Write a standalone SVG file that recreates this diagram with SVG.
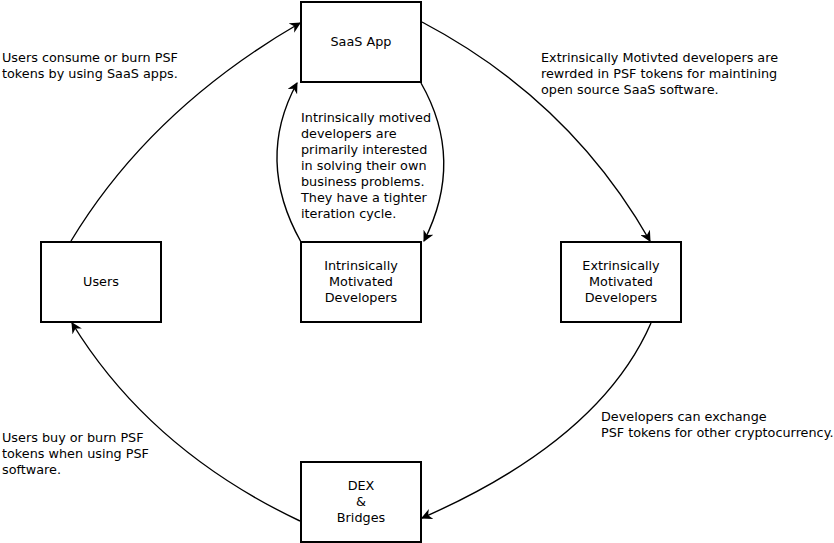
<svg xmlns="http://www.w3.org/2000/svg" width="834" height="543" viewBox="0 0 834 543">
<style>
.box{fill:#fff;stroke:#000;stroke-width:2}
.e{fill:none;stroke:#000;stroke-width:1.4}
text{font-family:"DejaVu Sans",sans-serif;font-size:12.8px;fill:#000}
.c{text-anchor:middle}
</style>
<defs>
<marker id="a" viewBox="0 0 10 10" refX="9" refY="5" markerWidth="11" markerHeight="11" markerUnits="userSpaceOnUse" orient="auto">
<path d="M0,0 L10,5 L0,10 L3,5 Z" fill="#000"/>
</marker>
</defs>
<g id="connectors">
<path class="e" d="M71,241 Q150,110 300,23" marker-end="url(#a)"/>
<path class="e" d="M422,22 Q570,100 650,241" marker-end="url(#a)"/>
<path class="e" d="M651,323 Q600,440 422,518" marker-end="url(#a)"/>
<path class="e" d="M300,521 Q150,450 72,323" marker-end="url(#a)"/>
<path class="e" d="M301,242 Q255,160 297,83" marker-end="url(#a)"/>
<path class="e" d="M421,83 Q465,160 424,241" marker-end="url(#a)"/>
</g>
<g id="saas"><rect class="box" x="301" y="2" width="120" height="80"/><text class="c" x="361" y="46">SaaS App</text></g>
<g id="users"><rect class="box" x="41" y="242" width="120" height="80"/><text class="c" x="101" y="286">Users</text></g>
<g id="intrinsic"><rect class="box" x="301" y="242" width="120" height="80"/><text class="c" x="361" y="270">Intrinsically</text><text class="c" x="361" y="286">Motivated</text><text class="c" x="361" y="302">Developers</text></g>
<g id="extrinsic"><rect class="box" x="561" y="242" width="120" height="80"/><text class="c" x="621" y="270">Extrinsically</text><text class="c" x="621" y="286">Motivated</text><text class="c" x="621" y="302">Developers</text></g>
<g id="dex"><rect class="box" x="301" y="462" width="120" height="80"/><text class="c" x="361" y="490">DEX</text><text class="c" x="361" y="506">&amp;</text><text class="c" x="361" y="522">Bridges</text></g>
<g id="labels">
<text x="2" y="62">Users consume or burn PSF</text>
<text x="2" y="78">tokens by using SaaS apps.</text>
<text x="541" y="62">Extrinsically Motivted developers are</text>
<text x="541" y="78">rewrded in PSF tokens for maintining</text>
<text x="541" y="94">open source SaaS software.</text>
<text x="301" y="122">Intrinsically motived</text>
<text x="301" y="138">developers are</text>
<text x="301" y="154">primarily interested</text>
<text x="301" y="170">in solving their own</text>
<text x="301" y="186">business problems.</text>
<text x="301" y="202">They have a tighter</text>
<text x="301" y="218">iteration cycle.</text>
<text x="601" y="421">Developers can exchange</text>
<text x="601" y="437">PSF tokens for other cryptocurrency.</text>
<text x="2" y="442">Users buy or burn PSF</text>
<text x="2" y="458">tokens when using PSF</text>
<text x="2" y="474">software.</text>
</g>
</svg>
